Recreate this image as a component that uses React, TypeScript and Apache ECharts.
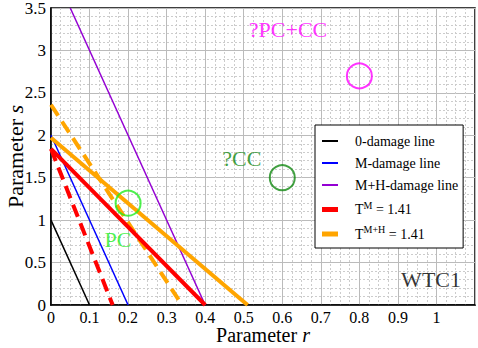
import React, { useEffect, useRef } from "react";
import * as echarts from "echarts";

const zeroDamage = [[0, 1], [0.1, 0]];
const mDamage = [[0, 2], [0.2, 0]];
const mhDamage = [[0.05, 3.5], [0.4, 0]];
const tMSolid = [[0, 1.84], [0.4, 0]];
const tMDashed = [[0, 1.84], [0.16, 0]];
const tMHSolid = [[0, 1.97], [0.51, 0]];
const tMHDashed = [[0, 2.36], [0.34, 0]];

const circles = [
  { name: "PC", value: [0.2, 1.2], color: "#22ee22" },
  { name: "?CC", value: [0.6, 1.5], color: "#118811" },
  { name: "?PC+CC", value: [0.8, 2.7], color: "#ff00ff" },
];
const labels = [
  { name: "PC", value: [0.174, 0.77], color: "#22ee22" },
  { name: "?CC", value: [0.495, 1.73], color: "#118811" },
  { name: "?PC+CC", value: [0.615, 3.25], color: "#ff00ff" },
  { name: "WTC1", value: [0.986, 0.295], color: "#000000" },
];

const legendNames = ["0-damage line", "M-damage line", "M+H-damage line", "TM", "TMH"];
const legendThick = [false, false, false, true, true];
const legendLabels: Record<string, string> = {
  "0-damage line": "0-damage line",
  "M-damage line": "M-damage line",
  "M+H-damage line": "M+H-damage line",
  TM: "T{sup|M} = 1.41",
  TMH: "T{sup|M+H} = 1.41",
};

const FONT = "Liberation Serif, DejaVu Serif, serif";

export default function App() {
  const ref = useRef<HTMLDivElement>(null);
  useEffect(() => {
    const chart = echarts.init(ref.current!, null, { renderer: "svg" });
    const lineSeries = (name: string, data: number[][], color: string, width: number, dashed = false, z = 2) => ({
      name,
      type: "line",
      data,
      showSymbol: false,
      symbol: "none",
      z,
      lineStyle: { color, width, type: dashed ? [13, 7] : "solid", cap: "butt" },
      itemStyle: { color },
    });
    chart.setOption({
      animation: false,
      textStyle: { fontFamily: FONT },
      grid: {
        left: 51,
        right: 3,
        top: 8,
        bottom: 43,
        outerBoundsMode: "none",
        containLabel: false,
        show: true,
        borderColor: "#000",
        borderWidth: 1.5,
        backgroundColor: "transparent",
      },
      legend: {
        data: legendNames.map((n, i) => ({
          name: n,
          icon: legendThick[i] ? "path://M0,0H16V5H0Z" : "path://M0,0H16V2H0Z",
        })),
        orient: "vertical",
        left: 315,
        top: 125,
        backgroundColor: "#fff",
        borderColor: "#000",
        borderWidth: 1,
        borderRadius: 0,
        padding: [9, 5, 7, 7],
        itemWidth: 16,
        itemHeight: 14,
        itemGap: 8,
        symbolKeepAspect: true,
        formatter: (n: string) => legendLabels[n],
        textStyle: {
          fontFamily: FONT,
          fontSize: 14,
          color: "#000",
          padding: [0, 0, 0, 12],
          rich: {
            sup: { fontSize: 10, fontFamily: FONT, padding: [0, 0, 9, 0] },
          },
        },
      },
      xAxis: {
        type: "value",
        min: 0,
        max: 1.1,
        interval: 0.1,
        name: "Parameter {i|r}",
        nameLocation: "middle",
        nameGap: 20,
        nameMoveOverlap: false,
        nameTextStyle: {
          fontFamily: FONT,
          fontSize: 20,
          color: "#000",
          rich: { i: { fontStyle: "italic", fontSize: 20, fontFamily: FONT } },
        },
        axisLine: { show: true, lineStyle: { color: "#000", width: 1.5 } },
        axisTick: { show: false },
        axisLabel: {
          fontFamily: FONT,
          fontSize: 16,
          lineHeight: 16,
          color: "#000",
          margin: 4,
          formatter: (v: number) => (v > 1.05 ? "" : String(Math.round(v * 10) / 10)),
        },
        splitLine: { show: true, lineStyle: { color: "#bbbbbb", width: 1 } },
        minorTick: { show: false, splitNumber: 4 },
        minorSplitLine: { show: true, lineStyle: { color: "#cccccc", width: 1, type: [2, 2] } },
      },
      yAxis: {
        type: "value",
        min: 0,
        max: 3.5,
        interval: 0.5,
        name: "Parameter {i|s}",
        nameLocation: "middle",
        nameGap: 25,
        nameMoveOverlap: false,
        nameTextStyle: {
          fontFamily: FONT,
          fontSize: 22,
          color: "#000",
          rich: { i: { fontStyle: "italic", fontSize: 22, fontFamily: FONT } },
        },
        axisLine: { show: true, lineStyle: { color: "#000", width: 1.5 } },
        axisTick: { show: false },
        axisLabel: {
          fontFamily: FONT,
          fontSize: 17,
          color: "#000",
          margin: 5,
          formatter: (v: number) => String(v),
        },
        splitLine: { show: true, lineStyle: { color: "#bbbbbb", width: 1 } },
        minorTick: { show: false, splitNumber: 5 },
        minorSplitLine: { show: true, lineStyle: { color: "#cccccc", width: 1, type: [2, 2] } },
      },
      series: [
        lineSeries("0-damage line", zeroDamage, "#000000", 1.5),
        lineSeries("M-damage line", mDamage, "#0000ff", 1.5),
        lineSeries("M+H-damage line", mhDamage, "#9400d3", 1.5),
        lineSeries("TMH", tMHSolid, "#ffa500", 4, false, 3),
        lineSeries("TMH-dashed", tMHDashed, "#ffa500", 4, true, 3),
        lineSeries("TM", tMSolid, "#ff0000", 4, false, 4),
        lineSeries("TM-dashed", tMDashed, "#ff0000", 4, true, 4),
        {
          name: "circles",
          type: "scatter",
          z: 5,
          symbol: "circle",
          symbolSize: 25,
          data: circles.map((c) => ({
            name: c.name,
            value: c.value,
            itemStyle: { color: "rgba(0,0,0,0)", borderColor: c.color, borderWidth: 2 },
          })),
        },
        {
          name: "labels",
          type: "scatter",
          z: 5,
          symbolSize: 0,
          data: labels.map((l) => ({
            name: l.name,
            value: l.value,
            label: {
              show: true,
              position: "inside",
              formatter: l.name,
              color: l.color,
              fontSize: 22,
              fontFamily: FONT,
            },
          })),
        },
      ],
    });
    return () => chart.dispose();
  }, []);
  return (
    <div
      ref={ref}
      style={{ position: "absolute", left: 0, top: 0, width: 478, height: 348, background: "#fff" }}
    />
  );
}
